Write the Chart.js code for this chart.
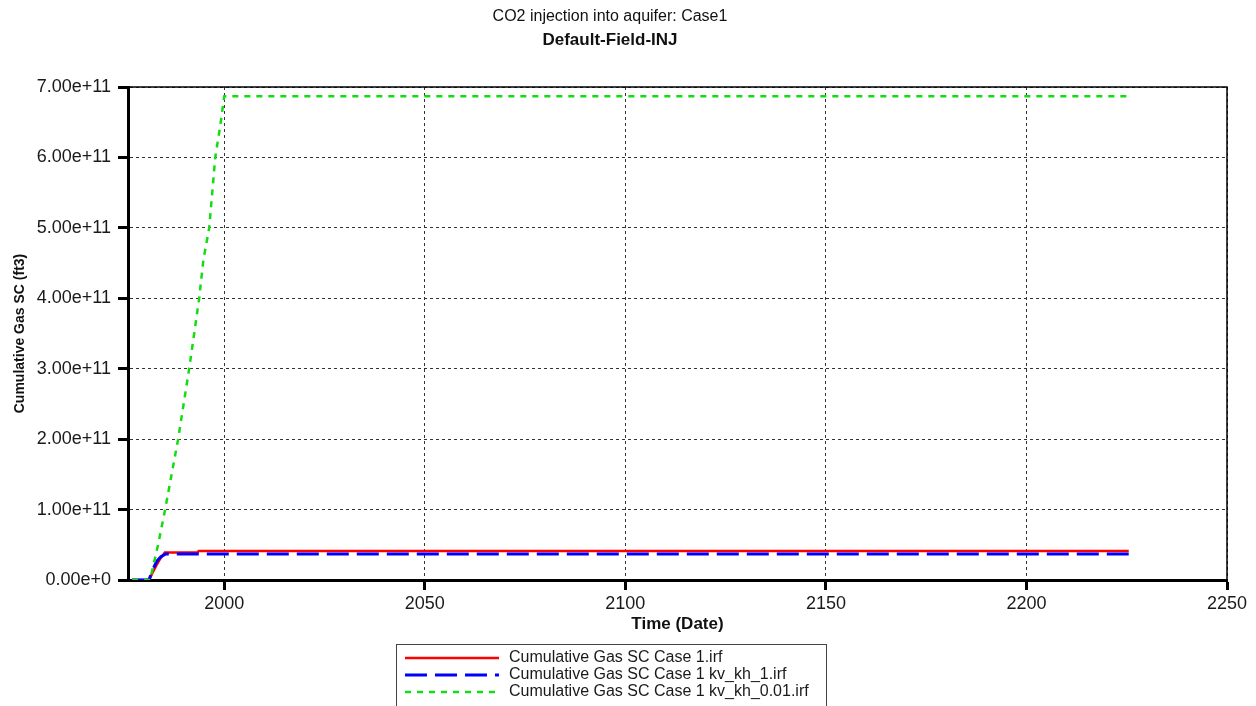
<!DOCTYPE html>
<html>
<head>
<meta charset="utf-8">
<title>Default-Field-INJ</title>
<script src="https://cdn.jsdelivr.net/npm/chart.js@4/dist/chart.umd.min.js"></script>
<style>
    html, body { margin: 0; padding: 0; background: #fff; }
    #wrap { width: 1256px; height: 706px; position: relative; }
</style>
</head>
<body>
<div id="wrap"><canvas id="chart" width="1256" height="706"></canvas></div>
<script>
// chart data (years as decimal dates, gas in ft3)
const chartTitle = 'CO2 injection into aquifer: Case1';
const chartSubtitle = 'Default-Field-INJ';
const seriesLabels = [
    'Cumulative Gas SC Case 1.irf',
    'Cumulative Gas SC Case 1 kv_kh_1.irf',
    'Cumulative Gas SC Case 1 kv_kh_0.01.irf'
];

const case1Years = [1977, 1981.3, 1982, 1983, 1984, 1985.2, 1993.3, 1993.6, 2225.5];
const case1Gas = [0, 0, 0.09e11, 0.2e11, 0.3e11, 0.39e11, 0.39e11, 0.41e11, 0.41e11];

const kvkh1Years = [1977, 1981.2, 1982.2, 1983.2, 1984.2, 1985.4, 2225.5];
const kvkh1Gas = [0, 0, 0.15e11, 0.27e11, 0.33e11, 0.37e11, 0.37e11];

const kvkh001Years = [1977, 1981.5, 1983.5, 1985.25, 1988.5, 1991.25, 1993.75, 1994.8, 1996.25, 1997.75, 1999, 2000, 2225.5];
const kvkh001Gas = [0, 0, 0.5e11, 1.0e11, 2.0e11, 3.0e11, 4.0e11, 4.55e11, 5.0e11, 6.0e11, 6.45e11, 6.87e11, 6.87e11];

const xTicks = [2000, 2050, 2100, 2150, 2200, 2250];
const xTickLabels = ['2000', '2050', '2100', '2150', '2200', '2250'];
const yTicks = [0, 1e11, 2e11, 3e11, 4e11, 5e11, 6e11, 7e11];
const yTickLabels = ['0.00e+0', '1.00e+11', '2.00e+11', '3.00e+11', '4.00e+11', '5.00e+11', '6.00e+11', '7.00e+11'];

function toPoints(xs, ys) {
    return xs.map((x, i) => ({ x: x, y: ys[i] }));
}

const seriesStyles = [
    { color: '#ff0000', width: 2.5, dash: [] },
    { color: '#0000ff', width: 3, dash: [22, 8] },
    { color: '#11dd11', width: 2.5, dash: [6, 6] }
];

// titles, frame and the boxed legend
const decorPlugin = {
    id: 'decor',
    afterDraw(chart) {
        const ctx = chart.ctx;
        const area = chart.chartArea;
        ctx.save();

        ctx.fillStyle = '#111';
        ctx.textAlign = 'center';
        ctx.textBaseline = 'middle';
        ctx.font = '16px "Liberation Sans", Arial, sans-serif';
        ctx.fillText(chartTitle, 610, 17);
        ctx.font = 'bold 17px "Liberation Sans", Arial, sans-serif';
        ctx.fillText(chartSubtitle, 610, 40);

        // top and right frame
        ctx.strokeStyle = '#000';
        ctx.lineWidth = 1.5;
        ctx.beginPath();
        ctx.moveTo(area.left, area.top);
        ctx.lineTo(area.right, area.top);
        ctx.lineTo(area.right, area.bottom);
        ctx.stroke();

        // legend
        const lx = 396.5, ly = 644.5, lw = 430, lh = 80;
        ctx.fillStyle = '#fff';
        ctx.fillRect(lx, ly, lw, lh);
        ctx.strokeStyle = '#444';
        ctx.lineWidth = 1;
        ctx.strokeRect(lx, ly, lw, lh);
        ctx.textAlign = 'left';
        ctx.font = '16px "Liberation Sans", Arial, sans-serif';
        chart.data.datasets.forEach((ds, i) => {
            const y = 658 + i * 17;
            ctx.strokeStyle = ds.borderColor;
            ctx.lineWidth = ds.borderWidth;
            ctx.setLineDash(ds.borderDash);
            ctx.beginPath();
            ctx.moveTo(405, y);
            ctx.lineTo(499, y);
            ctx.stroke();
            ctx.setLineDash([]);
            ctx.fillStyle = '#1a1a1a';
            ctx.fillText(ds.label, 509, y);
        });
        ctx.restore();
    }
};

const ctx = document.getElementById('chart').getContext('2d');
new Chart(ctx, {
    type: 'line',
    data: {
        datasets: [
            { label: seriesLabels[0], data: toPoints(case1Years, case1Gas), order: 2 },
            { label: seriesLabels[1], data: toPoints(kvkh1Years, kvkh1Gas), order: 1 },
            { label: seriesLabels[2], data: toPoints(kvkh001Years, kvkh001Gas), order: 0 }
        ].map((ds, i) => Object.assign(ds, {
            borderColor: seriesStyles[i].color,
            backgroundColor: seriesStyles[i].color,
            borderWidth: seriesStyles[i].width,
            borderDash: seriesStyles[i].dash,
            pointRadius: 0,
            tension: 0,
            fill: false
        }))
    },
    options: {
        responsive: false,
        animation: false,
        layout: { padding: { left: 8, top: 87, right: 29, bottom: 70 } },
        plugins: {
            legend: { display: false },
            title: { display: false },
            tooltip: { enabled: false }
        },
        scales: {
            x: {
                type: 'linear',
                min: 1976,
                max: 2250,
                afterBuildTicks: axis => { axis.ticks = xTicks.map(v => ({ value: v })); },
                afterFit: scale => { scale.height = 56; },
                ticks: {
                    color: '#1a1a1a',
                    padding: 3,
                    maxRotation: 0,
                    callback: (value) => xTickLabels[xTicks.indexOf(value)],
                    font: { family: '"Liberation Sans", Arial, sans-serif', size: 18 }
                },
                grid: {
                    color: '#333',
                    lineWidth: 1,
                    tickColor: '#000',
                    tickWidth: 3,
                    tickLength: 10
                },
                border: { color: '#000', width: 3, dash: [3, 3] },
                title: {
                    display: true,
                    text: 'Time (Date)',
                    color: '#111',
                    padding: { top: 0, bottom: 1 },
                    font: { family: '"Liberation Sans", Arial, sans-serif', size: 17, weight: 'bold' }
                }
            },
            y: {
                type: 'linear',
                min: 0,
                max: 7e11,
                afterBuildTicks: axis => { axis.ticks = yTicks.map(v => ({ value: v })); },
                afterFit: scale => { scale.width = 120; },
                ticks: {
                    color: '#1a1a1a',
                    padding: 7,
                    callback: (value) => yTickLabels[yTicks.indexOf(value)],
                    font: { family: '"Liberation Sans", Arial, sans-serif', size: 18 }
                },
                grid: {
                    color: '#333',
                    lineWidth: 1,
                    tickColor: '#000',
                    tickWidth: 3,
                    tickLength: 10
                },
                border: { color: '#000', width: 3, dash: [3, 3] },
                title: {
                    display: true,
                    text: 'Cumulative Gas SC (ft3)',
                    color: '#111',
                    padding: { top: 4, bottom: 0 },
                    font: { family: '"Liberation Sans", Arial, sans-serif', size: 14, weight: 'bold' }
                }
            }
        }
    },
    plugins: [decorPlugin]
});
</script>
</body>
</html>
